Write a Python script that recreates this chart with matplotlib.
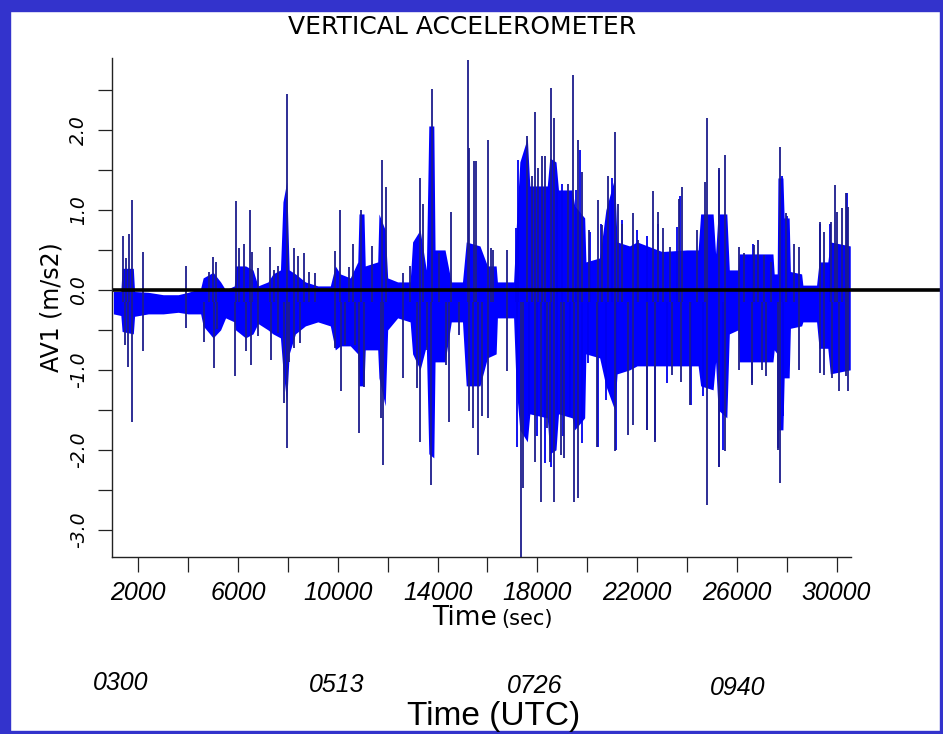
import matplotlib
matplotlib.use("Agg")
import matplotlib.pyplot as plt
from matplotlib.patches import Rectangle

# ---------------- data ----------------
# body envelope breakpoints: time (s), upper value, lower value (m/s2)
env_t = [1000, 1300, 1350, 1800, 1850, 2400, 3000, 3600, 4000, 4500, 4600, 5000,
         5300, 5500, 5850, 5900, 6300, 6600, 6800, 7200, 7400, 7700, 7800, 7950,
         8050, 8300, 8700, 9200, 9700, 9900, 10100, 10500, 10800, 10850, 11050,
         11100, 11600, 11650, 11900, 12000, 12400, 12900, 13000, 13300, 13550,
         13650, 13850, 13900, 14300, 14550, 15000, 15150, 15700, 16000, 16350,
         16400, 17050, 17150, 17300, 17600, 17700, 18400, 18500, 18750, 18850,
         19400, 19500, 19900, 19950, 20500, 20750, 21100, 21200, 21700, 22000,
         23000, 24000, 24450, 24550, 25050, 25150, 25250, 25600, 25700, 26050,
         26100, 27450, 27500, 27620, 27650, 27850, 27900, 28100, 28150, 28600,
         28650, 29200, 29300, 29650, 29750, 30550]
env_hi = [-0.02, -0.02, 0.27, 0.27, -0.02, -0.03, -0.06, -0.06, -0.03, 0.02, 0.15, 0.22,
          0.10, 0.00, 0.05, 0.30, 0.30, 0.25, 0.05, 0.10, 0.20, 0.25, 1.10, 1.35,
          0.25, 0.20, 0.10, 0.05, 0.05, 0.30, 0.20, 0.15, 0.35, 0.95, 0.95,
          0.30, 0.35, 0.95, 0.75, 0.15, 0.10, 0.10, 0.60, 0.75, 0.25,
          2.05, 2.05, 0.50, 0.50, 0.10, 0.10, 0.60, 0.55, 0.30, 0.30,
          0.10, 0.10, 0.75, 1.60, 1.90, 1.30, 1.30, 1.65, 1.60, 1.25,
          1.25, 1.05, 0.90, 0.35, 0.40, 1.00, 1.40, 0.60, 0.55, 0.60,
          0.48, 0.50, 0.50, 0.95, 0.95, 0.45, 0.95, 0.95, 0.25, 0.25,
          0.45, 0.45, 0.20, 0.20, 1.40, 1.40, 0.90, 0.90, 0.23, 0.20,
          0.06, 0.06, 0.35, 0.35, 0.60, 0.55]
env_lo = [-0.30, -0.32, -0.52, -0.55, -0.33, -0.30, -0.30, -0.28, -0.30, -0.30, -0.45, -0.60,
          -0.50, -0.35, -0.40, -0.50, -0.60, -0.55, -0.42, -0.50, -0.55, -0.60, -1.00, -1.40,
          -0.80, -0.55, -0.45, -0.40, -0.45, -0.75, -0.70, -0.70, -0.80, -1.20, -1.20,
          -0.75, -0.75, -1.10, -1.45, -0.50, -0.35, -0.40, -0.80, -1.00, -0.70,
          -2.05, -2.10, -0.90, -0.90, -0.40, -0.40, -1.20, -1.20, -0.85, -0.80,
          -0.35, -0.35, -1.20, -1.75, -1.90, -1.55, -1.60, -2.05, -2.00, -1.55,
          -1.60, -1.75, -1.60, -0.80, -0.85, -1.20, -1.50, -1.05, -1.00, -0.95,
          -0.95, -0.95, -0.95, -1.20, -1.25, -0.90, -1.50, -1.60, -0.55, -0.50,
          -0.90, -0.90, -0.75, -0.80, -1.75, -1.75, -1.10, -1.10, -0.48, -0.45,
          -0.40, -0.40, -0.73, -0.73, -1.05, -1.00]

# large upward spikes: time (s), peak (m/s2)
up_t = [1400, 1507, 1640, 1760, 2200, 3913, 4823, 4983, 5117, 5900, 6052, 6238,
        6479, 6572, 6813, 7281, 7455, 7615, 7949, 8230, 8390, 8631, 8845, 9086,
        9888, 10089, 10463, 10624, 10930, 11371, 11759, 11933, 12628, 12896, 13297,
        13404, 13765, 14046, 14540, 15236, 15275, 15449, 15543, 16030, 16130, 16236,
        16771, 17600, 17774, 17908, 18041, 18175, 18309, 18536, 18683, 19218, 19445,
        19646, 19779, 20087, 20421, 20582, 20822, 21116, 21249, 21383, 21824, 22051,
        22653, 22854, 23054, 23322, 23696, 23816, 24391, 24725, 24792, 25287, 25528,
        26103, 26301, 26702, 26863, 27104, 27371, 27732, 27960, 28307, 28507, 29336,
        29497, 29778, 29938, 30005, 30205, 30366, 30473]
up_v = [0.67, 0.40, 0.70, 1.125, 0.47, 0.30, 0.23, 0.41, 0.35, 1.11, 0.53, 0.58,
        1.00, 0.47, 0.27, 0.54, 0.25, 0.30, 2.45, 0.52, 0.42, 0.46, 0.22, 0.21,
        0.49, 1.00, 0.29, 0.57, 1.00, 0.55, 1.63, 1.29, 0.21, 0.30, 1.40,
        1.08, 2.51, 0.46, 0.97, 2.88, 1.77, 1.61, 1.61, 1.87, 0.52, 0.50,
        0.50, 1.92, 1.42, 2.22, 1.52, 1.67, 1.67, 2.53, 2.15, 1.33, 2.69,
        1.875, 1.48, 0.75, 1.125, 0.81, 1.42, 1.98, 1.08, 0.83, 0.96, 0.63,
        1.24, 0.98, 0.77, 0.54, 1.14, 1.29, 0.75, 1.35, 2.15, 1.52, 1.69,
        0.54, 0.46, 0.56, 0.625, 0.44, 0.35, 1.79, 0.96, 0.58, 0.54, 0.85,
        0.73, 0.85, 1.31, 0.98, 1.02, 1.21, 1.04]

# smaller upward spikes along the body edge
up2_t = [17146, 17240, 17775, 18176, 18804, 18978, 19553, 19713, 20114, 20555,
         20983, 21384, 21986, 22387, 22855, 23590, 23724, 25302, 26665, 27802,
         28002, 29340, 29741, 30409]
up2_v = [0.77, 1.62, 1.29, 1.17, 1.375, 1.33, 1.25, 1.75, 0.73, 0.83,
         1.40, 0.875, 0.75, 0.67, 0.83, 0.79, 1.17, 1.50, 0.58, 1.42,
         0.92, 0.83, 0.83, 1.21]

# large downward spikes: time (s), trough (m/s2)
dn_t = [1467, 1600, 1760, 2200, 3913, 4649, 5036, 5170, 5892, 6305, 6505, 6813,
        7321, 7615, 7842, 7949, 8056, 8243, 8498, 9888, 10129, 10289, 10690, 10850,
        11050, 11719, 11799, 12601, 13190, 13297, 13564, 13738, 14340, 14473, 14874,
        15262, 15436, 15610, 15770, 16037, 16771, 17333, 17440, 17908, 18135, 18375,
        18523, 18683, 18964, 19084, 19485, 19646, 20394, 21116, 21650, 21824, 22386,
        22720, 23389, 23750, 24124, 24792, 25287, 25528, 26103, 26596, 27023, 27157,
        27665, 27732, 28507, 29336, 29510, 29804, 30098, 30366, 30473]
dn_v = [-0.69, -0.96, -1.65, -0.77, -0.48, -0.65, -0.98, -0.49, -1.08, -0.77, -0.94, -0.58,
        -0.88, -0.54, -1.42, -1.98, -0.90, -0.73, -0.67, -0.73, -1.27, -0.69, -0.69, -1.79,
        -1.21, -1.60, -2.19, -1.10, -1.23, -1.90, -0.75, -2.44, -0.94, -1.65, -0.56,
        -1.52, -1.73, -2.06, -1.58, -1.60, -1.02, -3.37, -2.48, -2.15, -2.65, -1.73,
        -2.15, -2.65, -2.06, -2.10, -2.65, -2.60, -1.96, -2.02, -1.81, -1.69, -1.75,
        -1.90, -1.06, -1.15, -1.44, -2.69, -2.21, -2.02, -1.00, -1.19, -1.00, -1.08,
        -2.00, -2.42, -1.00, -1.04, -1.06, -1.10, -1.27, -1.08, -1.27]

# smaller downward spikes along the body edge
dn2_t = [17173, 17681, 17975, 18309, 18537, 18804, 19045, 19312, 19780, 20047,
         20422, 20756, 21144, 22387, 22721, 23190, 24165, 24660, 25302, 25462,
         26599, 27668, 27869]
dn2_v = [-1.96, -1.58, -1.83, -2.17, -2.21, -1.50, -1.83, -1.58, -1.92, -0.92,
         -1.96, -1.375, -2.00, -1.75, -1.875, -1.17, -1.44, -1.33, -2.21, -2.00,
         -1.17, -1.98, -1.58]

x_ticks = list(range(2000, 30001, 2000))
x_labels = ["2000", "6000", "10000", "14000", "18000", "22000", "26000", "30000"]
y_ticks = [-3.0, -2.5, -2.0, -1.5, -1.0, -0.5, 0.0, 0.5, 1.0, 1.5, 2.0, 2.5]
utc_labels = ["0300", "0513", "0726", "0940"]

# ---------------- figure ----------------
W, H = 943, 734
fig = plt.figure(figsize=(W / 100, H / 100), dpi=100)
fig.patch.set_facecolor("white")

# blue frame
frame = "#3333cc"
fig.patches.append(Rectangle((0, 0), 10 / W, 1, transform=fig.transFigure, color=frame, zorder=0))
fig.patches.append(Rectangle((0, 1 - 11 / H), 1, 11 / H, transform=fig.transFigure, color=frame, zorder=0))
fig.patches.append(Rectangle((1 - 3 / W, 0), 3 / W, 1, transform=fig.transFigure, color=frame, zorder=0))
fig.patches.append(Rectangle((0, 0), 1, 3 / H, transform=fig.transFigure, color=frame, zorder=0))

ax = fig.add_axes([112 / W, (H - 557) / H, (851 - 112) / W, (557 - 58) / H])
ax.set_facecolor("none")
ax.set_xlim(945, 30580)
ax.set_ylim(-3.34, 2.9)

spike_col = "#1c1c8c"
# signal body
ax.fill_between(env_t, env_lo, env_hi, color="#0000ff", linewidth=0, zorder=2)
# spikes
ax.vlines(up2_t, -0.15, up2_v, color="#0000ee", linewidth=1.3, zorder=2.5)
ax.vlines(dn2_t, -0.15, dn2_v, color="#0000ee", linewidth=1.3, zorder=2.5)
ax.vlines(up_t, -0.15, up_v, color=spike_col, linewidth=1.3, zorder=3)
ax.vlines(dn_t, -0.15, dn_v, color=spike_col, linewidth=1.3, zorder=3)
# zero line extending to the right edge
ax.plot([1000, 40000], [0, 0], color="black", linewidth=2.6, zorder=4, clip_on=False,
        solid_capstyle="butt")

# spines
for s in ("top", "right"):
    ax.spines[s].set_visible(False)
for s in ("left", "bottom"):
    ax.spines[s].set_linewidth(1.0)
    ax.spines[s].set_color("#222222")

# x ticks
ax.set_xticks(x_ticks)
xl = []
for t in x_ticks:
    s = str(t)
    xl.append(s if s in x_labels else "")
ax.set_xticklabels(xl, fontsize=18, fontstyle="italic", family="Liberation Sans")
ax.tick_params(axis="x", direction="out", length=11, width=0.9, pad=6, color="#222222")

# y ticks
ax.set_yticks(y_ticks)
ax.set_yticklabels([("%.1f" % v if abs(v - round(v)) < 1e-9 else "") for v in y_ticks],
                   fontsize=13.5, fontstyle="italic", family="DejaVu Sans", rotation=90,
                   va="center")
ax.tick_params(axis="y", direction="out", length=10, width=0.9, pad=7, color="#222222")

ax.set_ylabel("AV1 (m/s2)", fontsize=17, family="DejaVu Sans", labelpad=4)

# title
fig.text(462 / W, 1 - 27 / H, "VERTICAL ACCELEROMETER", ha="center", va="center",
         fontsize=18, family="DejaVu Sans")

# x-axis title "Time (sec)"
fig.text(497 / W, 1 - 618 / H, "Time", ha="right", va="center", fontsize=19,
         family="DejaVu Sans")
fig.text(501 / W, 1 - 619 / H, "(sec)", ha="left", va="center", fontsize=15,
         family="DejaVu Sans")

# UTC labels
utc_x = [121, 337, 535, 738]
utc_y = [683, 685, 686, 688]
for lab, px, py in zip(utc_labels, utc_x, utc_y):
    fig.text(px / W, 1 - py / H, lab, ha="center", va="center", fontsize=18,
             fontstyle="italic", family="Liberation Sans")
fig.text(494 / W, 1 - 716 / H, "Time (UTC)", ha="center", va="center", fontsize=24,
         family="Liberation Sans")

fig.savefig("out.png", dpi=100, facecolor="white")
